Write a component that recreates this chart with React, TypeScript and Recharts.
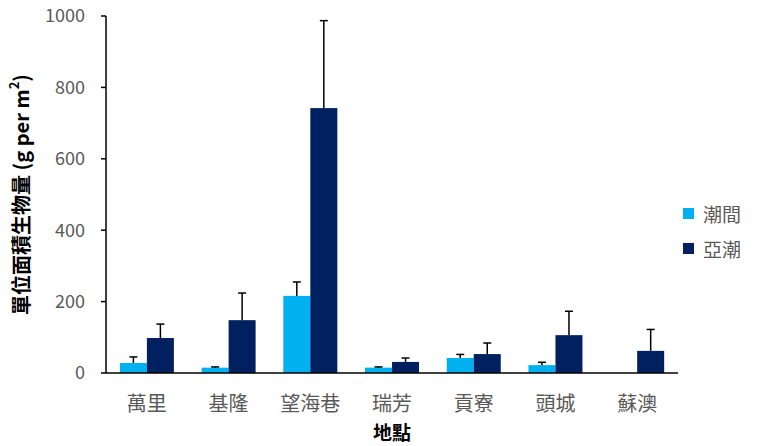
import React from 'react';
import { BarChart, Bar, XAxis, YAxis, Label } from 'recharts';

const sites = ['萬里', '基隆', '望海巷', '瑞芳', '貢寮', '頭城', '蘇澳'];
const intertidal = [28, 15, 216, 15, 42, 22, null];
const intertidalErr = [17, 2, 39, 2, 10, 8, null];
const subtidal = [98, 148, 742, 31, 53, 106, 62];
const subtidalErr = [39, 76, 245, 11, 31, 67, 60];
const yTicks = [0, 200, 400, 600, 800, 1000];

const seriesNames = ['潮間', '亞潮'];
const colors = ['#00B0F0', '#002060'];

const data = sites.map((site, i) => ({
  site,
  intertidal: intertidal[i],
  intertidalErr: intertidalErr[i],
  subtidal: subtidal[i],
  subtidalErr: subtidalErr[i],
}));

const FONT = '"Noto Sans CJK TC", "Noto Sans", sans-serif';

// bar + upper-only error whisker (Excel style, no lower cap)
const barWithError = (errKey: string) => (props: any) => {
  const { x, y, width, height, fill, value, payload } = props;
  if (value == null || !height) return <g />;
  const err = payload[errKey];
  const pxPerUnit = height / value;
  const cx = x + width / 2;
  const top = y - err * pxPerUnit;
  return (
    <g>
      <rect x={x} y={y} width={width} height={height} fill={fill} />
      {err ? (
        <g stroke="#000" strokeWidth={1.5}>
          <line x1={cx} x2={cx} y1={y} y2={top} />
          <line x1={cx - 4} x2={cx + 4} y1={top} y2={top} />
        </g>
      ) : null}
    </g>
  );
};

const YTitle = (props: any) => {
  const { viewBox } = props;
  const cy = viewBox.y + viewBox.height / 2;
  return (
    <text
      x={20}
      y={cy}
      transform={`rotate(-90, 20, ${cy})`}
      textAnchor="middle"
      dominantBaseline="central"
      fontSize={20}
      fontWeight={700}
      fill="#000"
      fontFamily={FONT}
    >
      單位面積生物量 (g per m
      <tspan fontSize={13} dy={-7}>2</tspan>
      <tspan dy={7}>)</tspan>
    </text>
  );
};

const XTitle = (props: any) => {
  const { viewBox } = props;
  const cx = viewBox.x + viewBox.width / 2;
  return (
    <text x={cx} y={431} textAnchor="middle" dominantBaseline="central" fontSize={19} fontWeight={700} fill="#000" fontFamily={FONT}>
      地點
    </text>
  );
};

export default function App() {
  return (
    <div style={{ position: 'absolute', left: 0, top: 0, width: 757, height: 446, background: '#fff', fontFamily: FONT }}>
      <BarChart
        width={757}
        height={446}
        data={data}
        margin={{ top: 16, right: 79, left: 0, bottom: 13 }}
        barGap={0}
        barCategoryGap="17%"
      >
        <XAxis
          dataKey="site"
          height={60}
          tickLine={false}
          tickSize={0}
          tickMargin={24}
          axisLine={{ stroke: '#000', strokeWidth: 1.5 }}
          tick={{ fill: '#595959', fontSize: 20, fontFamily: FONT }}
        >
          <Label content={<XTitle />} />
        </XAxis>
        <YAxis
          width={106}
          domain={[0, 1000]}
          ticks={yTicks}
          interval={0}
          tickSize={5}
          tickMargin={16}
          axisLine={{ stroke: '#000', strokeWidth: 1.5 }}
          tickLine={{ stroke: '#000', strokeWidth: 1.5 }}
          tick={{ fill: '#595959', fontSize: 18, fontFamily: FONT }}
        >
          <Label content={<YTitle />} />
        </YAxis>
        <Bar
          dataKey="intertidal"
          name={seriesNames[0]}
          fill={colors[0]}
          shape={barWithError('intertidalErr')}
          isAnimationActive={false}
        />
        <Bar
          dataKey="subtidal"
          name={seriesNames[1]}
          fill={colors[1]}
          shape={barWithError('subtidalErr')}
          isAnimationActive={false}
        />
      </BarChart>
      <div style={{ position: 'absolute', left: 683, top: 196 }}>
        {seriesNames.map((name, i) => (
          <div key={name} style={{ display: 'flex', alignItems: 'center', height: 35, color: '#595959', fontSize: 19 }}>
            <span style={{ display: 'inline-block', width: 11, height: 11, background: colors[i], marginRight: 9 }} />
            {name}
          </div>
        ))}
      </div>
    </div>
  );
}
